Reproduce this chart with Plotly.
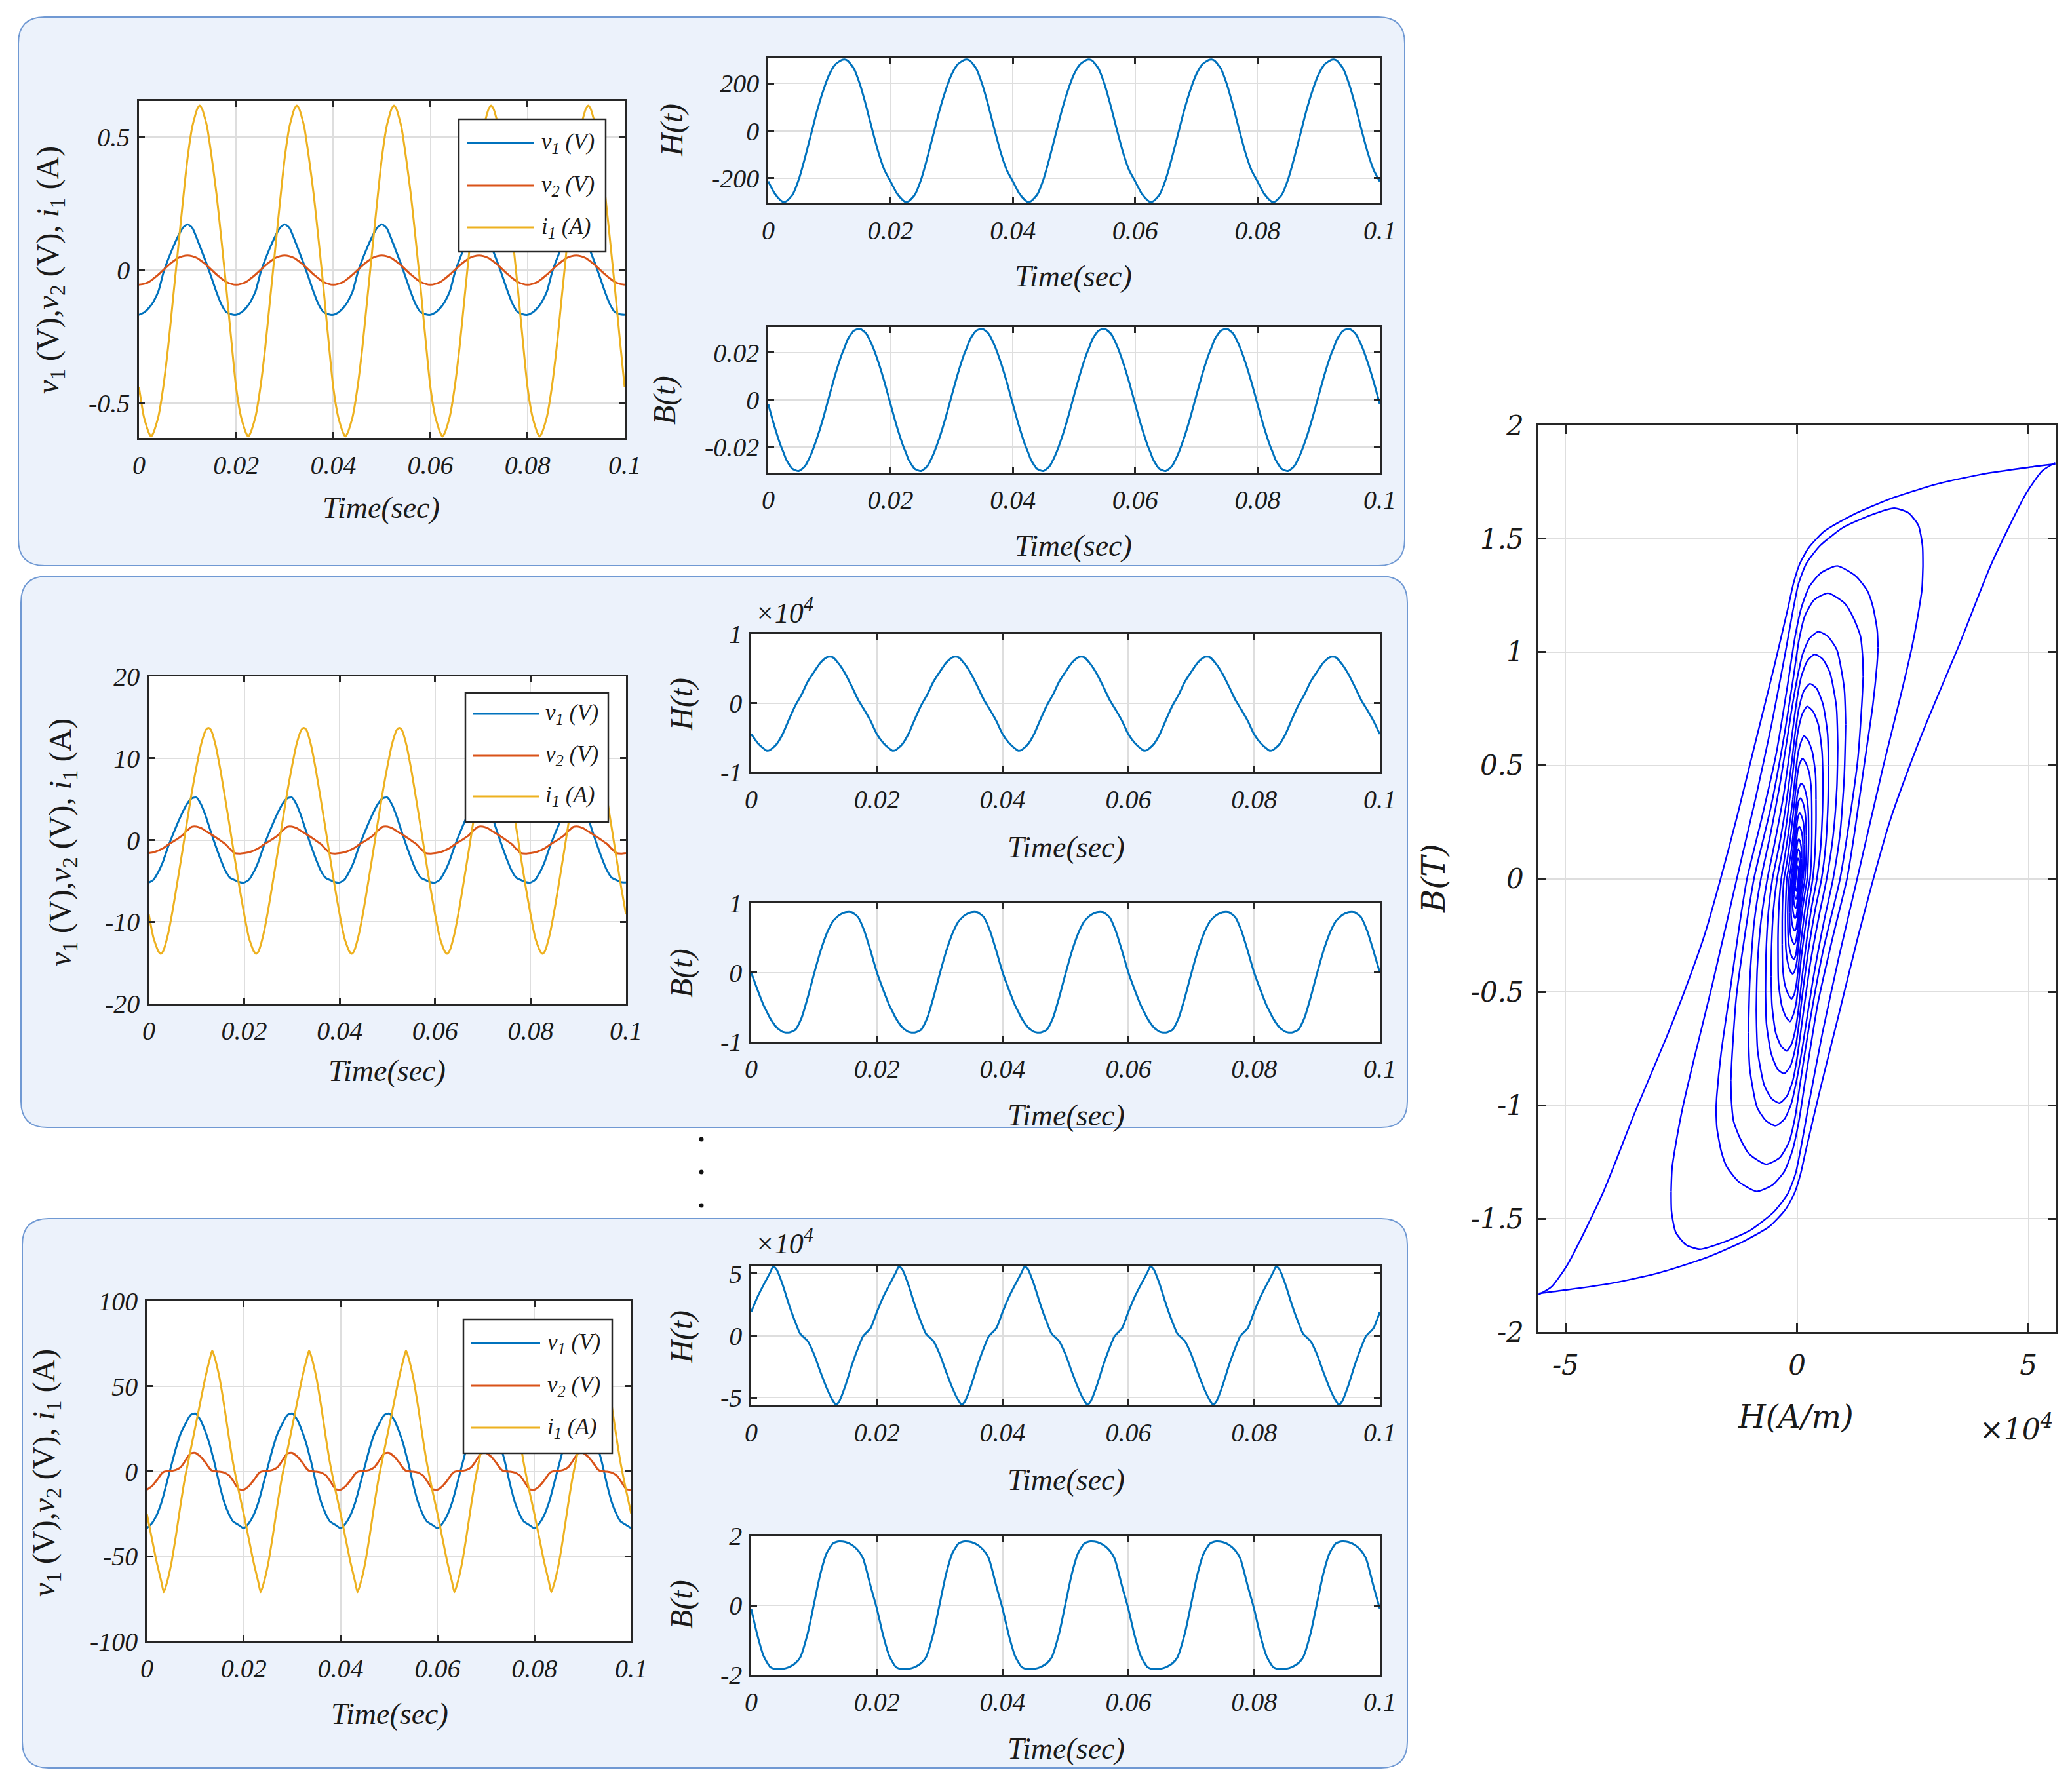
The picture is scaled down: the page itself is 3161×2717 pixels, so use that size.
import plotly.graph_objects as go

W, H = 3161, 2717

# ---------------- waveform data: one 0.02 s period of each signal -------------
PERIOD = 0.02
N_PERIODS = 5

# panel 1 (small excitation)
T_1 = [0, 0.001, 0.002, 0.0025, 0.003, 0.004, 0.005, 0.006, 0.007, 0.008, 0.009,
       0.010, 0.011, 0.012, 0.0125, 0.013, 0.014, 0.015, 0.016, 0.017, 0.018, 0.019]
V1_1 = [-0.168, -0.160, -0.143, -0.132, -0.118, -0.080, -0.012, 0.040, 0.085, 0.125, 0.158,
        0.172, 0.158, 0.115, 0.092, 0.068, 0.020, -0.032, -0.085, -0.130, -0.158, -0.166]
V2_1 = [-0.055, -0.052, -0.045, -0.039, -0.032, -0.017, 0.000, 0.017, 0.032, 0.045, 0.052,
        0.055, 0.052, 0.045, 0.039, 0.032, 0.017, 0.000, -0.017, -0.032, -0.045, -0.052]
I1_1 = [-0.44, -0.55, -0.61, -0.625, -0.61, -0.55, -0.44, -0.29, -0.11, 0.07, 0.25,
        0.42, 0.54, 0.605, 0.618, 0.605, 0.54, 0.42, 0.28, 0.11, -0.07, -0.26]
H_1 = [-213, -262, -292, -300, -296, -268, -205, -115, -15, 85, 170,
       238, 280, 298, 300, 295, 262, 195, 105, 5, -90, -165]
B_1 = [-0.0018, -0.0110, -0.0190, -0.0222, -0.0255, -0.0292, -0.0300, -0.0280, -0.0230, -0.0160, -0.0076,
       0.0018, 0.0110, 0.0190, 0.0222, 0.0255, 0.0292, 0.0300, 0.0280, 0.0230, 0.0160, 0.0076]

# panel 2 (medium excitation), H in 1e4 A/m
T_2 = T_1
V1_2 = [-5.2, -4.85, -3.9, -3.3, -2.6, -0.9, 0.6, 2.0, 3.3, 4.4, 5.1,
        5.2, 4.3, 2.8, 1.9, 1.0, -0.7, -2.3, -3.7, -4.6, -4.9, -5.15]
V2_2 = [-1.6, -1.5, -1.3, -1.15, -1.0, -0.6, -0.22, 0.15, 0.55, 1.15, 1.62,
        1.65, 1.45, 1.08, 0.9, 0.72, 0.35, -0.05, -0.48, -1.07, -1.6, -1.66]
I1_2 = [-9.1, -12.0, -13.6, -13.9, -13.6, -11.6, -8.6, -5.1, -1.5, 2.2, 5.8,
        9.0, 11.8, 13.5, 13.7, 13.5, 11.6, 8.6, 5.1, 1.5, -2.2, -5.8]
H_2 = [-0.45, -0.575, -0.66, -0.69, -0.68, -0.60, -0.45, -0.24, -0.04, 0.12, 0.31,
       0.45, 0.58, 0.66, 0.67, 0.66, 0.56, 0.42, 0.24, 0.05, -0.10, -0.26]
B_2 = [0.0, -0.25, -0.48, -0.57, -0.66, -0.79, -0.86, -0.87, -0.83, -0.66, -0.36,
       -0.02, 0.30, 0.56, 0.66, 0.74, 0.83, 0.87, 0.87, 0.80, 0.60, 0.31]

# panel 3 (large excitation), H in 1e4 A/m
T_3 = [0, 0.001, 0.002, 0.003, 0.0035, 0.004, 0.005, 0.006, 0.007, 0.0078, 0.009,
       0.010, 0.011, 0.012, 0.013, 0.0135, 0.014, 0.015, 0.016, 0.017, 0.0178, 0.019]
V1_3 = [-33.5, -30.8, -26.0, -18.5, -13.5, -8.0, 2.8, 13.5, 22.3, 27.0, 33.0,
        34.0, 30.5, 24.0, 15.5, 10.0, 4.6, -7.8, -18.4, -25.5, -29.5, -31.7]
V2_3 = [-10.8, -8.8, -5.5, -1.5, -0.3, 0.0, 0.2, 0.8, 2.5, 5.5, 10.5,
        10.8, 8.8, 5.5, 1.5, 0.3, 0.0, -0.2, -0.8, -2.5, -5.5, -10.5]
I1_3 = [-25, -39, -53, -65, -71, -67, -55, -38, -19, -5, 12,
        26, 40, 54, 66, 71, 67, 55, 38, 19, 5, -12]
H_3 = [1.9, 3.1, 4.1, 5.05, 5.55, 5.35, 4.1, 2.5, 1.1, 0.15, -0.45,
       -1.5, -2.9, -4.2, -5.25, -5.55, -5.3, -4.0, -2.4, -1.0, -0.05, 0.6]
B_3 = [-0.1, -0.87, -1.47, -1.77, -1.82, -1.84, -1.83, -1.78, -1.67, -1.50, -0.80,
       0.05, 0.90, 1.50, 1.78, 1.82, 1.84, 1.82, 1.74, 1.58, 1.35, 0.55]

# ---------------- hysteresis loops: descending branch of each loop (H in 1e4 A/m, B in T) ----------
# ascending branch is the point-symmetric image (-H, -B) of the descending branch
LOOP1_H = [5.58, 5.0, 4.0, 3.0, 2.0, 1.2, 0.6, 0.25, 0.05, -0.08, -0.2, -0.5, -0.95, -1.3, -1.65,
           -2.0, -2.4, -2.8, -3.5, -4.2, -4.95, -5.3, -5.58]
LOOP1_B = [1.83, 1.815, 1.785, 1.74, 1.675, 1.605, 1.535, 1.46, 1.385, 1.30, 1.19, 0.93, 0.56, 0.27, 0.0,
           -0.25, -0.48, -0.69, -1.03, -1.39, -1.70, -1.80, -1.835]
LOOP2_H = [2.72, 2.71, 2.62, 2.40, 2.10, 1.60, 1.00, 0.50, 0.20, 0.03, -0.10, -0.25, -0.55, -0.90, -1.30,
           -1.85, -2.23, -2.47, -2.61, -2.70, -2.72]
LOOP2_B = [1.38, 1.47, 1.56, 1.615, 1.635, 1.605, 1.55, 1.47, 1.39, 1.30, 1.17, 1.00, 0.68, 0.35, 0.0,
           -0.485, -0.80, -1.01, -1.16, -1.28, -1.38]
LOOP3_H = [1.75, 1.73, 1.64, 1.52, 1.27, 0.87, 0.52, 0.27, 0.10, -0.04, -0.20, -0.45, -0.77, -1.08,
           -1.24, -1.45, -1.64, -1.73, -1.75]
LOOP3_B = [1.02, 1.10, 1.20, 1.27, 1.335, 1.38, 1.35, 1.29, 1.20, 1.07, 0.86, 0.55, 0.26, 0.0,
           -0.20, -0.50, -0.77, -0.95, -1.02]
LOOP4_H = [1.43, 1.42, 1.37, 1.22, 1.03, 0.67, 0.37, 0.17, 0.04, -0.07, -0.27, -0.56, -0.93, -1.12,
           -1.31, -1.40, -1.43]
LOOP4_B = [0.89, 0.97, 1.07, 1.15, 1.215, 1.26, 1.23, 1.16, 1.05, 0.90, 0.64, 0.32, 0.0, -0.24,
           -0.52, -0.77, -0.89]
LOOP5_H = [1.05, 1.02, 0.86, 0.66, 0.46, 0.27, 0.12, 0.0, -0.12, -0.35, -0.58, -0.78, -0.93, -1.02, -1.05]
LOOP5_B = [0.68, 0.84, 1.01, 1.07, 1.09, 1.06, 0.99, 0.88, 0.74, 0.44, 0.19, 0.0, -0.2, -0.45, -0.68]
LOOP6_H = [0.88, 0.85, 0.71, 0.55, 0.38, 0.22, 0.09, -0.01, -0.11, -0.29, -0.47, -0.64, -0.78, -0.86, -0.88]
LOOP6_B = [0.58, 0.76, 0.91, 0.97, 0.99, 0.96, 0.89, 0.78, 0.63, 0.37, 0.17, 0.0, -0.19, -0.40, -0.58]
LOOP7_H = [0.68, 0.66, 0.56, 0.42, 0.28, 0.15, 0.05, -0.03, -0.11, -0.25, -0.39, -0.53, -0.62, -0.67, -0.68]
LOOP7_B = [0.50, 0.64, 0.77, 0.84, 0.86, 0.83, 0.76, 0.66, 0.52, 0.31, 0.14, 0.0, -0.15, -0.34, -0.50]
LOOP8_H = [0.56, 0.54, 0.46, 0.34, 0.22, 0.12, 0.04, -0.03, -0.10, -0.21, -0.32, -0.43, -0.51, -0.55, -0.56]
LOOP8_B = [0.43, 0.56, 0.68, 0.74, 0.76, 0.73, 0.67, 0.58, 0.45, 0.27, 0.12, 0.0, -0.14, -0.30, -0.43]
LOOP9_H = [0.41, 0.40, 0.33, 0.24, 0.15, 0.08, 0.02, -0.03, -0.09, -0.18, -0.27, -0.34, -0.39, -0.41, -0.41]
LOOP9_B = [0.35, 0.46, 0.56, 0.61, 0.63, 0.60, 0.55, 0.47, 0.35, 0.21, 0.09, 0.0, -0.12, -0.25, -0.35]
LOOP10_H = [0.32, 0.31, 0.26, 0.19, 0.12, 0.06, 0.01, -0.03, -0.08, -0.15, -0.22, -0.28, -0.31, -0.32, -0.32]
LOOP10_B = [0.29, 0.39, 0.47, 0.51, 0.53, 0.51, 0.46, 0.39, 0.29, 0.17, 0.07, 0.0, -0.09, -0.19, -0.29]
LOOP11_H = [0.25, 0.24, 0.20, 0.14, 0.09, 0.04, 0.00, -0.03, -0.07, -0.12, -0.18, -0.22, -0.24, -0.25, -0.25]
LOOP11_B = [0.23, 0.31, 0.37, 0.41, 0.42, 0.40, 0.36, 0.30, 0.22, 0.13, 0.05, 0.0, -0.08, -0.16, -0.23]
LOOP12_H = [0.20, 0.19, 0.16, 0.11, 0.07, 0.03, 0.0, -0.03, -0.06, -0.10, -0.14, -0.17, -0.19, -0.20, -0.20]
LOOP12_B = [0.19, 0.26, 0.31, 0.345, 0.355, 0.34, 0.30, 0.25, 0.18, 0.10, 0.04, 0.0, -0.07, -0.13, -0.19]
LOOP13_H = [0.16, 0.155, 0.13, 0.09, 0.06, 0.025, 0.0, -0.025, -0.05, -0.08, -0.11, -0.13, -0.15, -0.16, -0.16]
LOOP13_B = [0.15, 0.21, 0.255, 0.28, 0.29, 0.275, 0.245, 0.20, 0.145, 0.08, 0.03, 0.0, -0.055, -0.105, -0.15]
LOOP14_H = [0.13, 0.125, 0.105, 0.075, 0.05, 0.02, 0.0, -0.02, -0.04, -0.065, -0.085, -0.10, -0.12, -0.13, -0.13]
LOOP14_B = [0.12, 0.165, 0.20, 0.222, 0.23, 0.22, 0.195, 0.16, 0.115, 0.065, 0.025, 0.0, -0.045, -0.085, -0.12]
LOOP15_H = [0.10, 0.095, 0.08, 0.058, 0.04, 0.016, 0.0, -0.016, -0.031, -0.05, -0.065, -0.075, -0.09, -0.10, -0.10]
LOOP15_B = [0.09, 0.125, 0.152, 0.169, 0.175, 0.167, 0.148, 0.121, 0.087, 0.049, 0.019, 0.0, -0.034, -0.064, -0.09]
LOOP16_H = [0.075, 0.072, 0.06, 0.044, 0.03, 0.012, 0.0, -0.012, -0.023, -0.037, -0.048, -0.055, -0.067, -0.075, -0.075]
LOOP16_B = [0.07, 0.095, 0.114, 0.126, 0.13, 0.124, 0.11, 0.09, 0.065, 0.036, 0.014, 0.0, -0.025, -0.048, -0.07]
LOOP17_H = [0.055, 0.053, 0.044, 0.032, 0.02, 0.008, 0.0, -0.009, -0.017, -0.027, -0.035, -0.04, -0.049, -0.055, -0.055]
LOOP17_B = [0.05, 0.066, 0.079, 0.087, 0.09, 0.086, 0.076, 0.062, 0.045, 0.025, 0.01, 0.0, -0.018, -0.034, -0.05]
LOOP18_H = [0.035, 0.034, 0.028, 0.02, 0.013, 0.005, 0.0, -0.006, -0.011, -0.017, -0.022, -0.025, -0.031, -0.035, -0.035]
LOOP18_B = [0.03, 0.04, 0.048, 0.053, 0.055, 0.053, 0.047, 0.038, 0.028, 0.015, 0.006, 0.0, -0.011, -0.021, -0.03]

LOOPS = [(LOOP1_H, LOOP1_B), (LOOP2_H, LOOP2_B), (LOOP3_H, LOOP3_B), (LOOP4_H, LOOP4_B),
         (LOOP5_H, LOOP5_B), (LOOP6_H, LOOP6_B), (LOOP7_H, LOOP7_B), (LOOP8_H, LOOP8_B),
         (LOOP9_H, LOOP9_B), (LOOP10_H, LOOP10_B), (LOOP11_H, LOOP11_B), (LOOP12_H, LOOP12_B),
         (LOOP13_H, LOOP13_B), (LOOP14_H, LOOP14_B), (LOOP15_H, LOOP15_B), (LOOP16_H, LOOP16_B),
         (LOOP17_H, LOOP17_B), (LOOP18_H, LOOP18_B)]

# ---------------- tick labels ----------------
T_TICKS = [0, 0.02, 0.04, 0.06, 0.08, 0.1]
T_TICKTEXT = ["0", "0.02", "0.04", "0.06", "0.08", "0.1"]

# ---------------- styles ----------------
C_V1, C_V2, C_I1 = "#0072BD", "#D95319", "#EDB120"
C_HB = "#0072BD"
C_LOOP = "#0000FF"
TXT = "#1a1a1a"
SERIF = "Liberation Serif"
SERIF2 = "DejaVu Serif"
PANEL_FILL = "#ECF2FB"
PANEL_LINE = "#7099D3"


def tile(t, v):
    ts, vs = [], []
    for k in range(N_PERIODS):
        ts.extend(round(ti + k * PERIOD, 6) for ti in t)
        vs.extend(v)
    ts.append(round(N_PERIODS * PERIOD, 6))
    vs.append(v[0])
    return ts, vs


fig = go.Figure()

# axis boxes in pixels: (x0, x1, y0, y1)
AXES = {
    1: (212, 953, 154, 668),     # panel1 left
    2: (1172, 2105, 89, 310),    # panel1 H
    3: (1172, 2105, 499, 721),   # panel1 B
    4: (227, 955, 1032, 1531),   # panel2 left
    5: (1146, 2105, 967, 1178),  # panel2 H
    6: (1146, 2105, 1378, 1589), # panel2 B
    7: (224, 963, 1985, 2504),   # panel3 left
    8: (1146, 2105, 1931, 2144), # panel3 H
    9: (1146, 2105, 2343, 2555), # panel3 B
    10: (2346, 3137, 649, 2032), # hysteresis
}

YSPEC = {
    1: ([-0.63, 0.635], [-0.5, 0, 0.5], ["-0.5", "0", "0.5"]),
    2: ([-305, 305], [-200, 0, 200], ["-200", "0", "200"]),
    3: ([-0.0307, 0.0307], [-0.02, 0, 0.02], ["-0.02", "0", "0.02"]),
    4: ([-20, 20], [-20, -10, 0, 10, 20], ["-20", "-10", "0", "10", "20"]),
    5: ([-1, 1], [-1, 0, 1], ["-1", "0", "1"]),
    6: ([-1, 1], [-1, 0, 1], ["-1", "0", "1"]),
    7: ([-100, 100], [-100, -50, 0, 50, 100], ["-100", "-50", "0", "50", "100"]),
    8: ([-5.61, 5.61], [-5, 0, 5], ["-5", "0", "5"]),
    9: ([-2, 2], [-2, 0, 2], ["-2", "0", "2"]),
    10: ([-2, 2], [-2, -1.5, -1, -0.5, 0, 0.5, 1, 1.5, 2],
         ["-2", "-1.5", "-1", "-0.5", "0", "0.5", "1", "1.5", "2"]),
}


def k(i):
    return "" if i == 1 else str(i)


def add_ts(i, t, v, color):
    ts, vs = tile(t, v)
    fig.add_trace(go.Scatter(x=ts, y=vs, mode="lines", line=dict(color=color, width=3, shape="spline", smoothing=0.6),
                             xaxis="x" + k(i), yaxis="y" + k(i), showlegend=False, hoverinfo="skip"))


# panel traces
add_ts(1, T_1, V1_1, C_V1); add_ts(1, T_1, V2_1, C_V2); add_ts(1, T_1, I1_1, C_I1)
add_ts(2, T_1, H_1, C_HB); add_ts(3, T_1, B_1, C_HB)
add_ts(4, T_2, V1_2, C_V1); add_ts(4, T_2, V2_2, C_V2); add_ts(4, T_2, I1_2, C_I1)
add_ts(5, T_2, H_2, C_HB); add_ts(6, T_2, B_2, C_HB)
add_ts(7, T_3, V1_3, C_V1); add_ts(7, T_3, V2_3, C_V2); add_ts(7, T_3, I1_3, C_I1)
add_ts(8, T_3, H_3, C_HB); add_ts(9, T_3, B_3, C_HB)

# hysteresis loops
for hh, bb in LOOPS:
    xs = list(hh) + [None] + [-v for v in hh]
    ys = list(bb) + [None] + [-v for v in bb]
    fig.add_trace(go.Scatter(x=xs, y=ys, mode="lines", line=dict(color=C_LOOP, width=2.4, shape="spline", smoothing=0.6),
                             xaxis="x10", yaxis="y10", showlegend=False, hoverinfo="skip"))

layout = dict(template="none", width=W, height=H, autosize=False, margin=dict(l=0, r=0, t=0, b=0, pad=0),
              paper_bgcolor="white", plot_bgcolor="white", showlegend=False)

for i, (x0, x1, y0, y1) in AXES.items():
    hyst = (i == 10)
    fam = SERIF2 if hyst else SERIF
    fsize = 42 if hyst else 40
    tlen = 13 if hyst else 9
    common = dict(showgrid=True, gridcolor="#DEDEDE", gridwidth=2, zeroline=False, showline=True,
                  linecolor="#262626", linewidth=2.5, mirror="ticks", ticks="inside", ticklen=tlen,
                  tickwidth=2.5, tickcolor="#262626", fixedrange=True, automargin=False,
                  tickfont=dict(family=fam, size=fsize, color=TXT, style="italic"))
    if hyst:
        xr, xtv, xtt = [-5.6, 5.6], [-5, 0, 5], ["-5", "0", "5"]
    else:
        xr, xtv, xtt = [0, 0.1], T_TICKS, T_TICKTEXT
    yr, ytv, ytt = YSPEC[i]
    layout["xaxis" + k(i)] = dict(domain=[x0 / W, x1 / W], anchor="y" + k(i), range=xr,
                                  tickmode="array", tickvals=xtv, ticktext=xtt,
                                  ticklabelstandoff=(12 if hyst else 4), **common)
    layout["yaxis" + k(i)] = dict(domain=[1 - y1 / H, 1 - y0 / H], anchor="x" + k(i), range=yr,
                                  tickmode="array", tickvals=ytv, ticktext=ytt,
                                  ticklabelstandoff=(10 if hyst else 3), **common)

shapes = []


def rounded(x0, y0, x1, y1, r):
    rx, ry = r / W, r / H
    a0, a1 = x0 / W, x1 / W
    b0, b1 = 1 - y0 / H, 1 - y1 / H  # b0 top, b1 bottom
    return (f"M {a0+rx},{b0} L {a1-rx},{b0} Q {a1},{b0} {a1},{b0-ry} L {a1},{b1+ry} "
            f"Q {a1},{b1} {a1-rx},{b1} L {a0+rx},{b1} Q {a0},{b1} {a0},{b1+ry} "
            f"L {a0},{b0-ry} Q {a0},{b0} {a0+rx},{b0} Z")


for (x0, y0, x1, y1) in [(28, 26, 2143, 863), (32, 879, 2147, 1720), (34, 1859, 2147, 2697)]:
    shapes.append(dict(type="path", path=rounded(x0, y0, x1, y1, 40), xref="paper", yref="paper",
                       fillcolor=PANEL_FILL, line=dict(color=PANEL_LINE, width=2), layer="below"))

for i in AXES:
    shapes.append(dict(type="rect", xref="x" + k(i) + " domain", yref="y" + k(i) + " domain",
                       x0=0, x1=1, y0=0, y1=1, fillcolor="white", line=dict(width=0), layer="below"))

annotations = []


def ann(text, x, y, size, angle=0, family=SERIF, xanchor="center", yanchor="middle"):
    annotations.append(dict(text=text, x=x / W, y=1 - y / H, xref="paper", yref="paper", showarrow=False,
                            textangle=angle, xanchor=xanchor, yanchor=yanchor,
                            font=dict(family=family, size=size, color=TXT)))


# manual legends (box, sample lines, labels)
LEG_LABELS = ["<i>v<sub>1</sub> (V)</i>", "<i>v<sub>2</sub> (V)</i>", "<i>i<sub>1</sub> (A)</i>"]
LEG_COLORS = [C_V1, C_V2, C_I1]
LEGENDS = [
    ((700, 182, 924, 384), (712, 815), 824, [218, 283, 347]),
    ((710, 1057, 928, 1254), (722, 822), 830, [1089, 1153, 1215]),
    ((707, 2013, 934, 2217), (719, 824), 833, [2049, 2114, 2178]),
]
for (bx0, by0, bx1, by1), (lx0, lx1), tx, rows in LEGENDS:
    shapes.append(dict(type="rect", xref="paper", yref="paper", x0=bx0 / W, x1=bx1 / W,
                       y0=1 - by1 / H, y1=1 - by0 / H, fillcolor="white",
                       line=dict(color="#262626", width=2.5), layer="above"))
    for ry, col, lab in zip(rows, LEG_COLORS, LEG_LABELS):
        shapes.append(dict(type="line", xref="paper", yref="paper", x0=lx0 / W, x1=lx1 / W,
                           y0=1 - ry / H, y1=1 - ry / H, line=dict(color=col, width=3), layer="above"))
        ann(lab, tx, ry, 35, xanchor="left")

# dots between panels
for dy in (1738, 1788, 1839):
    shapes.append(dict(type="circle", xref="paper", yref="paper", x0=(1070 - 3.5) / W, x1=(1070 + 3.5) / W,
                       y0=1 - (dy + 3.5) / H, y1=1 - (dy - 3.5) / H, fillcolor="#111111", line=dict(width=0)))

YT = "<i>v</i><sub>1</sub> (V),<i>v</i><sub>2</sub> (V), <i>i</i><sub>1</sub> (A)"
TIME = "<i>Time(sec)</i>"
HT = "<i>H(t)</i>"
BT = "<i>B(t)</i>"
X4 = "<i>×10<sup>4</sup></i>"

# panel 1
ann(TIME, 581, 775, 46); ann(YT, 76, 412, 48, angle=-90)
ann(HT, 1025, 199, 48, angle=-90); ann(TIME, 1637, 422, 46)
ann(BT, 1014, 611, 48, angle=-90); ann(TIME, 1637, 832, 46)
# panel 2
ann(TIME, 590, 1633, 46); ann(YT, 95, 1285, 48, angle=-90)
ann(HT, 1040, 1075, 48, angle=-90); ann(TIME, 1626, 1292, 46)
ann(X4, 1196, 932, 44)
ann(BT, 1040, 1485, 48, angle=-90); ann(TIME, 1626, 1702, 46)
# panel 3
ann(TIME, 594, 2614, 46); ann(YT, 70, 2247, 48, angle=-90)
ann(HT, 1040, 2040, 48, angle=-90); ann(TIME, 1626, 2257, 46)
ann(X4, 1196, 1894, 44)
ann(BT, 1040, 2448, 48, angle=-90); ann(TIME, 1626, 2667, 46)
# hysteresis
ann("<i>H(A/m)</i>", 2739, 2161, 48, family=SERIF2)
ann("<i>B(T)</i>", 2187, 1340, 48, angle=-90, family=SERIF2)
ann(X4, 3076, 2177, 44, family=SERIF2)

layout["shapes"] = shapes
layout["annotations"] = annotations
fig.update_layout(**layout)

fig.write_html("out.html", config={"displayModeBar": False},
               post_script="document.body.style.margin='0';document.body.style.overflow='hidden';")
